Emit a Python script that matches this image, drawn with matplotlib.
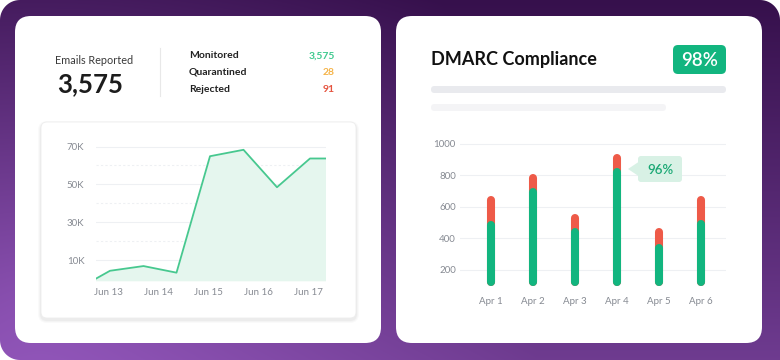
import numpy as np
import matplotlib
matplotlib.use("Agg")
import matplotlib.pyplot as plt
from matplotlib.patches import FancyBboxPatch, Polygon
from matplotlib.colors import to_rgb

plt.rcParams['font.family'] = ['Lato', 'DejaVu Sans']

W, H = 780, 360

# left card: summary numbers
emails_reported = "3,575"
status_labels = ['Monitored', 'Quarantined', 'Rejected']
status_values = ['3,575', '28', '91']
status_colors = ['#3ec98e', '#f5b44a', '#e5533f']

# reported emails over time (days since Jun 13, thousands)
trend_days = [-0.25, 0.04, 0.71, 1.37, 2.04, 2.71, 3.38, 4.04, 4.35]
trend_k = [0, 4.3, 6.8, 3.3, 64.9, 68.3, 48.5, 63.7, 63.7]
trend_ticks = ['Jun 13', 'Jun 14', 'Jun 15', 'Jun 16', 'Jun 17']
trend_yticks = [10, 30, 50, 70]

# right card: DMARC compliance per day
dmarc_days = ['Apr 1', 'Apr 2', 'Apr 3', 'Apr 4', 'Apr 5', 'Apr 6']
dmarc_total = [645, 783, 532, 910, 440, 647]
dmarc_pass = [488, 698, 444, 825, 338, 493]
dmarc_yticks = [200, 400, 600, 800, 1000]
compliance = '98%'
highlight_idx = 3
highlight_label = '96%'

GREEN = '#12b57f'
RED = '#ee5a48'
GRAY_TXT = '#868a92'
GRID = '#eef0f3'


def px_axes(fig, left, top, right, bottom):
    return fig.add_axes([left / W, 1 - bottom / H, (right - left) / W, (bottom - top) / H])


def arc(cx, cy, r, a0, a1, n=16):
    a = np.radians(np.linspace(a0, a1, n))
    return np.c_[cx + r * np.cos(a), cy + r * np.sin(a)]


def rbox(ax, x, y, w, h, r, **kw):
    p = FancyBboxPatch((x, y), w, h, boxstyle=f'round,pad=0,rounding_size={r}', **kw)
    ax.add_patch(p)
    return p


fig = plt.figure(figsize=(W / 100, H / 100), dpi=100, facecolor='white')

# ---- background, in pixel coordinates
bg = fig.add_axes([0, 0, 1, 1])
bg.set_xlim(0, W)
bg.set_ylim(H, 0)
bg.axis('off')

yy, xx = np.mgrid[0:H, 0:W] + 0.5
dist = np.hypot(xx - 40, yy - 300)
t = 0.6 * yy / H + 0.4 * np.clip(1 - dist / 500, 0, 1)
dark = np.array(to_rgb('#36104c'))
light = np.array(to_rgb('#9458bd'))
img = dark + (light - dark) * t[..., None]
im = bg.imshow(img, extent=(0, W, H, 0), zorder=0, interpolation='bilinear')
R = 20
outline = np.vstack([arc(R, R, R, 180, 270), arc(W - R, R, R, 270, 360),
                     [[W, H]], arc(R, H - R, R, 90, 180)])
clip = Polygon(outline, closed=True, fc='none', ec='none')
bg.add_patch(clip)
im.set_clip_path(clip)

# cards
rbox(bg, 15, 16, 366, 327, 16, fc='white', ec='none', zorder=1)
rbox(bg, 396, 16, 366, 327, 16, fc='white', ec='none', zorder=1)

# left card header
bg.text(55, 61, 'Emails Reported', fontsize=7.8, color='#3a3a3a', va='center', zorder=3)
bg.text(57, 84, emails_reported, fontsize=18.5, fontweight='bold', color='#1c1c1c',
        va='center', zorder=3)
bg.plot([160, 160], [48, 96], color='#e8e8e8', lw=0.8, zorder=3)
for i, (lab, val, col) in enumerate(zip(status_labels, status_values, status_colors)):
    y = 56 + i * 16.5
    bg.text(189, y, lab, fontsize=7.5, fontweight='bold', color='#222222', va='center', zorder=3)
    bg.text(335, y, val, fontsize=7.5, fontweight='bold', color=col, va='center', ha='right',
            zorder=3)

# inner chart card with soft shadow
for k, a in enumerate([0.018, 0.022, 0.03]):
    g = 3 - k
    rbox(bg, 41 - g, 122 - g + 2, 315 + 2 * g, 196 + 2 * g, 6 + g, fc='black', alpha=a,
         ec='none', zorder=2)
rbox(bg, 41, 122, 315, 196, 6, fc='white', ec='#ededed', lw=0.6, zorder=2)

# right card header
bg.text(431, 60, 'DMARC Compliance', fontsize=13, fontweight='bold', color='#111111',
        va='center', zorder=3)
rbox(bg, 673, 45, 53, 29, 5, fc=GREEN, ec='none', zorder=3)
bg.text(699.5, 60, compliance, fontsize=13.5, fontweight='semibold', color='white',
        ha='center', va='center', zorder=4)
rbox(bg, 431, 86, 295, 7, 3.5, fc='#e9eaee', ec='none', zorder=3)
rbox(bg, 431, 104, 235, 7, 3.5, fc='#f4f4f6', ec='none', zorder=3)

# ---- line chart
ax1 = px_axes(fig, 95.5, 142.8, 325.5, 280.8)
ax1.set_facecolor('none')
for s in ax1.spines.values():
    s.set_visible(False)
ax1.set_xlim(trend_days[0], trend_days[-1])
ax1.set_ylim(-1, 72)
for v in range(10, 80, 10):
    ax1.axhline(v, color=GRID, lw=0.8, ls='-' if v in trend_yticks else (0, (2, 2)), zorder=0)
ax1.fill_between(trend_days, trend_k, -1, color='#e5f6ee', lw=0, zorder=1)
ax1.plot(trend_days, trend_k, color='#47c88f', lw=1.3, zorder=2)
ax1.set_yticks(trend_yticks)
ax1.set_yticklabels([f'{v}K' for v in trend_yticks])
ax1.set_xticks(range(len(trend_ticks)))
ax1.set_xticklabels(trend_ticks)
ax1.tick_params(axis='y', length=0, pad=8, labelsize=7, labelcolor=GRAY_TXT)
ax1.tick_params(axis='x', length=0, pad=5.5, labelsize=7, labelcolor=GRAY_TXT)

# ---- stacked rounded bars
ax2 = px_axes(fig, 460, 142.4, 726, 292.05)
ax2.set_facecolor('none')
for s in ax2.spines.values():
    s.set_visible(False)
ax2.set_xlim(-0.738, 5.595)
ax2.set_ylim(60, 1010)
for v in dmarc_yticks:
    ax2.axhline(v, color=GRID, lw=0.8, zorder=0)
floor = 125
for i in range(len(dmarc_days)):
    ax2.plot([i, i], [floor, dmarc_total[i]], color=RED, lw=5.8, solid_capstyle='round', zorder=2)
    ax2.plot([i, i], [floor, dmarc_pass[i]], color=GREEN, lw=5.8, solid_capstyle='round', zorder=3)
ax2.set_yticks(dmarc_yticks)
ax2.set_xticks(range(len(dmarc_days)))
ax2.set_xticklabels(dmarc_days)
ax2.tick_params(axis='y', length=0, pad=3, labelsize=7, labelcolor=GRAY_TXT)
ax2.tick_params(axis='x', length=0, pad=3.5, labelsize=7, labelcolor=GRAY_TXT)

# ---- tooltip on the highlighted bar
ov = fig.add_axes([0, 0, 1, 1])
ov.set_xlim(0, W)
ov.set_ylim(H, 0)
ov.axis('off')
ov.patch.set_alpha(0)
tip_x = 617 + 11
rbox(ov, tip_x + 10, 156, 44, 26, 3, fc='#d8f1e5', ec='none')
ov.add_patch(Polygon([[tip_x, 169], [tip_x + 10.5, 162], [tip_x + 10.5, 176]], closed=True,
                     fc='#d8f1e5', ec='none'))
ov.text(tip_x + 32, 169.5, highlight_label, fontsize=9.5, color='#1aa874', fontweight='semibold',
        ha='center', va='center')

fig.savefig('out.png', dpi=100, facecolor='white')
